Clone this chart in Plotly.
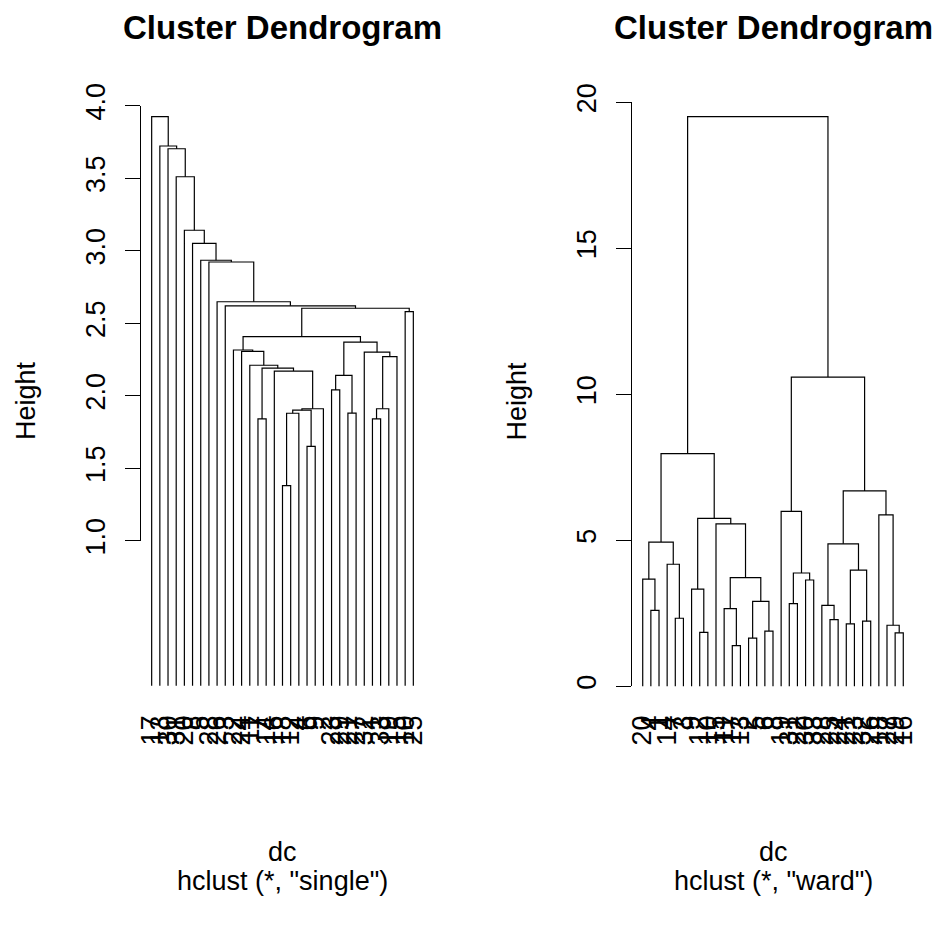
import plotly.graph_objects as go

W, H = 937, 935

# ---------------- data ----------------
# leaf labels in display order (left: single linkage, right: ward)
left_labels = ["17", "13", "30", "31", "20", "8", "5", "28", "26", "3", "22", "24", "11",
               "7", "14", "16", "18", "12", "4", "6", "9", "2", "23", "29", "21", "27",
               "32", "1", "33", "19", "15", "10", "25"]
right_labels = ["20", "4", "1", "14", "7", "3", "9", "12", "10", "15", "11", "17", "13",
                "2", "5", "6", "8", "19", "31", "22", "30", "33", "28", "25", "24", "21",
                "23", "32", "26", "18", "27", "29", "16"]

# merges: (a, b) with negative = leaf position (1-based), positive = earlier merge (1-based)
left_merge_a = [-14, -17, 2, -20, 3, 5, -16, 1, -13, -12, -11,
                -23, -25, 12, -28, 15, 16, -27, 14, 11,
                -32, 20, -10, -9, -8, -7, -6, -5, -4, -3, -2, -1]
left_merge_b = [-15, -18, -19, -21, 4, -22, 6, 7, 8, 9, 10,
                -24, -26, 13, -29, -30, -31, 17, 18, 19,
                -33, 21, 22, 23, 24, 25, 26, 27, 28, 29, 30, 31]
left_height = [1.84, 1.38, 1.879, 1.65, 1.90, 1.91, 2.17, 2.19, 2.21, 2.305, 2.315,
               2.04, 1.88, 2.14, 1.84, 1.91, 2.27, 2.30, 2.37, 2.407,
               2.58, 2.603, 2.62, 2.648, 2.922, 2.934, 3.051, 3.141, 3.51, 3.703, 3.722, 3.924]

right_merge_a = [-2, -1, -5, -4, 2, -8, -7, -12, -11, -14, -16, 10, 9, -10, 7, 5,
                 -19, -21, 17, -18, -24, -23, -26, -28, 23, 22, -32, -31, -30, 26, 20, 16]
right_merge_b = [-3, 1, -6, 3, 4, -9, 6, -13, 8, -15, -17, 11, 12, 13, 14, 15,
                 -20, -22, 18, 19, -25, 21, -27, -29, 24, 25, -33, 27, 28, 29, 30, 31]
right_height = [2.60, 3.67, 2.33, 4.18, 4.94, 1.85, 3.33, 1.39, 2.66, 1.65, 1.89, 2.91,
                3.72, 5.56, 5.75, 7.97, 2.83, 3.64, 3.88, 5.99, 2.28, 2.77, 2.14, 2.23,
                3.98, 4.88, 1.83, 2.09, 5.87, 6.69, 10.59, 19.51]

left_yticks = [1.0, 1.5, 2.0, 2.5, 3.0, 3.5, 4.0]
right_yticks = [0, 5, 10, 15, 20]


def dendro_path(ma, mb, hts):
    mx, xs, ys = [], [], []
    for a, b, h in zip(ma, mb, hts):
        pts = []
        for c in (a, b):
            if c < 0:
                pts.append((float(-c), 0.0))
            else:
                pts.append((mx[c - 1], hts[c - 1]))
        (xa, ha), (xb, hb) = pts
        xs += [xa, xa, xb, xb, None]
        ys += [ha, h, h, hb, None]
        mx.append((xa + xb) / 2)
    return xs, ys


FONT = "Liberation Sans, Arial, Helvetica, sans-serif"
fig = go.Figure()

lx, ly = dendro_path(left_merge_a, left_merge_b, left_height)
rx, ry = dendro_path(right_merge_a, right_merge_b, right_height)
fig.add_trace(go.Scatter(x=lx, y=ly, mode="lines", line=dict(color="black", width=1.2),
                         xaxis="x", yaxis="y", hoverinfo="skip", showlegend=False))
fig.add_trace(go.Scatter(x=rx, y=ry, mode="lines", line=dict(color="black", width=1.2),
                         xaxis="x2", yaxis="y2", hoverinfo="skip", showlegend=False))
# dummy traces so that the visible height axes are built
fig.add_trace(go.Scatter(x=[None], y=[None], xaxis="x", yaxis="y3", showlegend=False))
fig.add_trace(go.Scatter(x=[None], y=[None], xaxis="x2", yaxis="y4", showlegend=False))


def px_x(p):
    return p / W


def px_y(p):
    return 1 - p / H


n = len(left_labels)
xr = [1 - 0.04 * (n - 1), n + 0.04 * (n - 1)]

# panel geometry (pixels)
L_left, L_right = 141.2, 423.8
R_left, R_right = 632.3, 913.7
top_px, bot_px = 80, 700
# left: v = (685.7 - y)/145 ; right: v = (686.3 - y)/29.2
ly_range = [(685.7 - bot_px) / 145.0, (685.7 - top_px) / 145.0]
ry_range = [(686.3 - bot_px) / 29.2, (686.3 - top_px) / 29.2]

tickfont = dict(family=FONT, size=27, color="black")
xcommon = dict(range=xr, tickmode="array", tickvals=list(range(1, n + 1)), tickangle=-90,
               showgrid=False, zeroline=False, showline=False, ticks="", tickfont=tickfont,
               automargin=False, fixedrange=True, ticklabelstandoff=9)
ycommon = dict(tickangle=-90, ticks="outside", ticklen=15, tickwidth=1.2, tickcolor="black",
               showline=True, linecolor="black", linewidth=1.2, showgrid=False, zeroline=False,
               tickfont=tickfont, automargin=False, tickmode="array", ticklabelstandoff=9)

fig.update_layout(
    width=W, height=H, margin=dict(l=0, r=0, t=0, b=0, autoexpand=False),
    paper_bgcolor="white", plot_bgcolor="rgba(0,0,0,0)", showlegend=False,
    xaxis=dict(domain=[px_x(L_left), px_x(L_right)], anchor="y", ticktext=left_labels, **xcommon),
    xaxis2=dict(domain=[px_x(R_left), px_x(R_right)], anchor="y2", ticktext=right_labels, **xcommon),
    yaxis=dict(domain=[px_y(bot_px), px_y(top_px)], range=ly_range, visible=False, anchor="x",
               automargin=False),
    yaxis2=dict(domain=[px_y(bot_px), px_y(top_px)], range=ry_range, visible=False, anchor="x2",
                automargin=False),
    yaxis3=dict(domain=[px_y(540.7), px_y(105.7)], range=[1, 4], anchor="x",
                tickvals=left_yticks, ticktext=[f"{v:.1f}" for v in left_yticks], **ycommon),
    yaxis4=dict(domain=[px_y(686.3), px_y(102.3)], range=[0, 20], anchor="x2",
                tickvals=right_yticks, ticktext=[str(v) for v in right_yticks], **ycommon),
)

Lc = (L_left + L_right) / 2
Rc = (R_left + R_right) / 2
ann = []
for cx, axl, sub in [(Lc, 26, 'hclust (*, "single")'), (Rc, 516.6, 'hclust (*, "ward")')]:
    ann.append(dict(text="<b>Cluster Dendrogram</b>", x=px_x(cx), y=px_y(27), xref="paper", yref="paper",
                    showarrow=False, xanchor="center", yanchor="middle",
                    font=dict(family=FONT, size=33, color="black")))
    ann.append(dict(text="Height", x=px_x(axl), y=px_y(401), xref="paper", yref="paper",
                    showarrow=False, xanchor="center", yanchor="middle", textangle=-90,
                    font=dict(family=FONT, size=27, color="black")))
    ann.append(dict(text="dc", x=px_x(cx), y=px_y(852), xref="paper", yref="paper",
                    showarrow=False, xanchor="center", yanchor="middle",
                    font=dict(family=FONT, size=27, color="black")))
    ann.append(dict(text=sub, x=px_x(cx), y=px_y(881), xref="paper", yref="paper",
                    showarrow=False, xanchor="center", yanchor="middle",
                    font=dict(family=FONT, size=27, color="black")))
fig.update_layout(annotations=ann)

fig.write_html("out.html")
